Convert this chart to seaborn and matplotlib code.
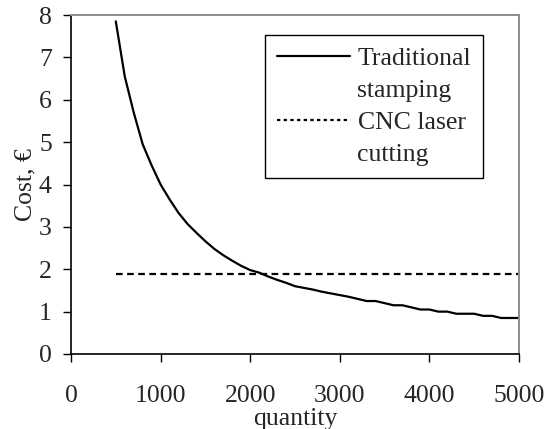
import matplotlib
matplotlib.use("Agg")
import matplotlib.pyplot as plt
from matplotlib.lines import Line2D
import seaborn as sns
import pandas as pd

# ---- data ----
quantity = [500, 600, 700, 800, 900, 1000, 1100, 1200, 1300, 1400, 1500,
            1600, 1700, 1800, 1900, 2000, 2100, 2200, 2300, 2400, 2500,
            2600, 2700, 2800, 2900, 3000, 3100, 3200, 3300, 3400, 3500,
            3600, 3700, 3800, 3900, 4000, 4100, 4200, 4300, 4400, 4500,
            4600, 4700, 4800, 4900, 5000]
traditional_stamping = [7.85, 6.55, 5.7, 4.95, 4.45, 4.0, 3.65, 3.33, 3.07, 2.86, 2.66,
                        2.48, 2.33, 2.2, 2.08, 1.98, 1.92, 1.83, 1.75, 1.68, 1.6,
                        1.56, 1.52, 1.47, 1.43, 1.39, 1.35, 1.3, 1.25, 1.25, 1.2,
                        1.15, 1.15, 1.1, 1.05, 1.05, 1.0, 1.0, 0.95, 0.95, 0.95,
                        0.9, 0.9, 0.85, 0.85, 0.85]
cnc_laser_cutting = [1.88] * len(quantity)

series_names = ["Traditional stamping", "CNC laser cutting"]
x_ticks = [0, 1000, 2000, 3000, 4000, 5000]
y_ticks = [0, 1, 2, 3, 4, 5, 6, 7, 8]

df = pd.DataFrame({
    "quantity": quantity * 2,
    "cost": traditional_stamping + cnc_laser_cutting,
    "series": [series_names[0]] * len(quantity) + [series_names[1]] * len(quantity),
})

sns.set_theme(style="white")
plt.rcParams["font.family"] = ["Liberation Serif", "DejaVu Serif"]

FS = 18.5
fig = plt.figure(figsize=(5.45, 4.29), dpi=100)
ax = fig.add_axes([71 / 545, 1 - 354 / 429, (519 - 71) / 545, (354 - 15) / 429])

sns.lineplot(data=df, x="quantity", y="cost", hue="series", style="series",
             palette=["black", "black"], dashes={series_names[0]: "", series_names[1]: (3, 2)},
             linewidth=1.6, ax=ax, legend=False, estimator=None, sort=False)

ax.set_xlim(0, 5000)
ax.set_ylim(0, 8)
ax.set_xticks(x_ticks)
ax.set_yticks(y_ticks)
ax.set_xticklabels([str(t) for t in x_ticks], fontsize=FS)
ax.set_yticklabels([str(t) for t in y_ticks], fontsize=FS)
ax.tick_params(axis="x", direction="out", length=5.8, width=1.0, color="black", pad=16.5,
               bottom=True)
ax.tick_params(axis="y", direction="out", length=5.8, width=1.0, color="black", pad=8,
               left=True)
ax.set_xlabel("quantity", fontsize=FS, labelpad=1)
ax.set_ylabel("Cost, €", fontsize=FS, labelpad=2)

for side in ["left", "bottom"]:
    ax.spines[side].set_color("black")
    ax.spines[side].set_linewidth(1.2)
for side in ["top", "right"]:
    ax.spines[side].set_color("#8c8c8c")
    ax.spines[side].set_linewidth(1.4)

handles = [
    Line2D([], [], color="black", lw=1.6),
    Line2D([], [], color="none", lw=0),
    Line2D([], [], color="black", lw=1.6, dashes=(1.5, 1.5)),
    Line2D([], [], color="none", lw=0),
]
labels = ["Traditional", "stamping", "CNC laser", "cutting"]
leg = fig.legend(handles, labels, loc="upper left",
                 bbox_to_anchor=(265 / 545, 1 - 35 / 429), borderaxespad=0,
                 fontsize=FS, frameon=True, fancybox=False, shadow=False,
                 handlelength=2.85, handletextpad=0.3, labelspacing=0.36,
                 borderpad=0.45)
frame = leg.get_frame()
frame.set_edgecolor("black")
frame.set_linewidth(1.0)
frame.set_facecolor("white")
frame.set_alpha(1)

fig.savefig("out.png", dpi=100)
